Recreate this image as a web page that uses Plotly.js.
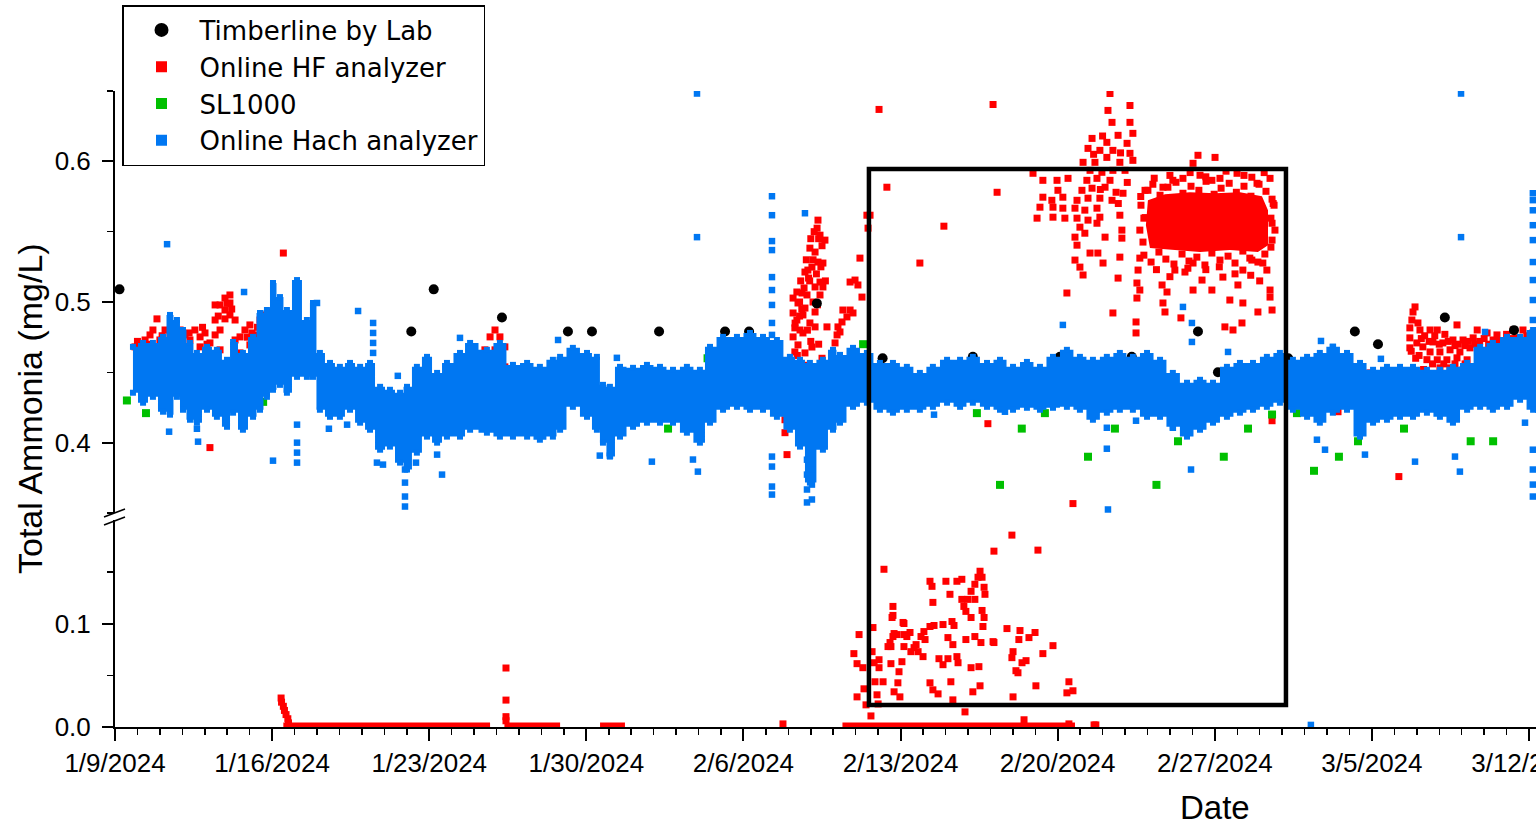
<!DOCTYPE html>
<html>
<head>
<meta charset="utf-8">
<script src="https://cdn.plot.ly/plotly-3.0.1.min.js"></script>
<style>html,body{margin:0;padding:0;background:#fff;overflow:hidden}#chart{width:1536px;height:829px}</style>
</head>
<body>
<div id="chart"></div>
<script>
// x values are days after 2024-01-09 00:00; y values are Total Ammonia (mg/L)
const startDate = '2024-01-09';

// Timberline by Lab
const labDay = [0.20,13.20,14.20,17.24,20.18,21.25,24.24,27.18,28.25,31.27,34.20,38.22,42.10,45.30,48.25,49.14,52.27,55.24,56.27,59.25,62.33];
const labVal = [0.509,0.479,0.509,0.489,0.479,0.479,0.479,0.479,0.479,0.499,0.460,0.461,0.461,0.461,0.479,0.450,0.460,0.479,0.470,0.489,0.480];

// SL1000
const slDay = [0.53,1.38,2.36,5.57,6.60,24.64,26.40,33.33,34.40,38.40,39.43,40.40,41.43,43.35,44.55,46.40,47.36,49.40,50.48,51.55,52.66,53.42,54.53,55.38,57.43,60.40,61.40];
const slVal = [0.430,0.421,0.430,0.461,0.429,0.410,0.460,0.470,0.452,0.421,0.370,0.410,0.421,0.390,0.410,0.370,0.401,0.390,0.410,0.420,0.421,0.380,0.390,0.401,0.410,0.401,0.401];

// Online Hach analyzer: dense band (upper / lower edge) and isolated readings
const hachDay = [0.80,1.25,1.69,2.14,2.45,2.76,3.03,3.34,3.65,4.10,4.54,4.99,5.26,5.70,6.15,6.46,6.77,7.04,7.35,7.66,8.11,8.55,8.82,9.13,9.58,10.02,10.47,10.92,11.36,11.81,12.25,12.70,13.01,13.45,13.90,14.35,14.79,15.37,15.82,16.57,17.15,17.73,18.36,18.93,19.51,19.83,20.40,21.03,21.47,21.74,22.05,22.50,23.08,23.70,24.28,24.86,25.48,26.06,26.51,27.09,27.71,28.29,28.87,29.49,30.07,30.52,30.96,31.54,31.99,32.30,32.88,33.50,34.08,34.66,35.28,35.86,36.44,37.07,37.65,38.22,38.85,39.43,40.01,40.63,41.21,41.79,42.41,42.99,43.57,44.19,44.77,45.35,45.98,46.56,47.13,47.76,48.34,48.92,49.54,50.12,50.70,51.32,51.90,52.48,53.11,53.68,54.26,54.89,55.47,56.05,56.67,57.25,57.83,58.45,59.03,59.61,60.24,60.82,61.39,62.02,62.60,63.18,63.40];
const hachHigh = [.4681,.4709,.4709,.4752,.4908,.4872,.4801,.4709,.4638,.4681,.4660,.4589,.4716,.4638,.4752,.4922,.4943,.5135,.5035,.4943,.5156,.4872,.4993,.4638,.4567,.4539,.4567,.4539,.4567,.4397,.4376,.4355,.4397,.4539,.4610,.4496,.4567,.4638,.4709,.4660,.4709,.4553,.4567,.4539,.4589,.4610,.4674,.4638,.4610,.4411,.4397,.4539,.4532,.4553,.4539,.4518,.4539,.4518,.4681,.4752,.4752,.4780,.4752,.4730,.4610,.4589,.4567,.4589,.4660,.4624,.4674,.4638,.4567,.4567,.4539,.4496,.4539,.4589,.4589,.4610,.4567,.4589,.4539,.4574,.4539,.4610,.4660,.4610,.4589,.4610,.4638,.4610,.4638,.4589,.4496,.4426,.4447,.4426,.4539,.4567,.4567,.4610,.4638,.4589,.4610,.4638,.4681,.4638,.4567,.4518,.4539,.4539,.4539,.4518,.4518,.4539,.4567,.4681,.4709,.4752,.4752,.4801,.4801];
const hachLow = [.4355,.4284,.4326,.4220,.4199,.4326,.4234,.4163,.4142,.4234,.4184,.4113,.4213,.4092,.4184,.4234,.4326,.4376,.4411,.4355,.4468,.4468,.4468,.4234,.4184,.4184,.4234,.4142,.4092,.3950,.3972,.3858,.3809,.3929,.4043,.4000,.4043,.4043,.4092,.4071,.4043,.4043,.4043,.4021,.4043,.4092,.4255,.4184,.4092,.4000,.3901,.4043,.4113,.4142,.4142,.4142,.4071,.4000,.4142,.4234,.4255,.4234,.4234,.4184,.4092,.3972,.3716,.3950,.4092,.4142,.4255,.4284,.4234,.4213,.4234,.4234,.4255,.4284,.4255,.4284,.4255,.4234,.4234,.4248,.4234,.4248,.4255,.4234,.4163,.4213,.4234,.4234,.4184,.4184,.4113,.4043,.4092,.4142,.4184,.4213,.4234,.4255,.4284,.4234,.4184,.4142,.4213,.4234,.4043,.4142,.4163,.4184,.4184,.4213,.4184,.4142,.4234,.4255,.4234,.4255,.4305,.4234,.4234];
const hachPoints = [[2.32,.5411],[5.75,.5071],[9.00,.4993],[10.83,.4936],[11.50,.4851],[11.50,.4780],[11.50,.4709],[11.50,.4638],[15.37,.4745],[12.60,.4475],[2.41,.4078],[3.65,.4099],[3.70,.4007],[7.04,.3872],[8.11,.4128],[8.11,.4000],[8.11,.3929],[8.11,.3858],[9.53,.4099],[10.34,.4128],[11.67,.3858],[11.94,.3844],[12.92,.3809],[12.92,.3716],[12.92,.3617],[12.92,.3546],[13.41,.3858],[14.35,.3915],[14.57,.3773],[25.93,.5461],[25.93,.6482],[29.27,.5752],[29.27,.5617],[29.27,.5433],[29.27,.5369],[29.27,.5177],[29.27,.5085],[29.27,.4979],[29.27,.4851],[29.27,.4766],[29.27,.3901],[29.27,.3830],[29.27,.3688],[29.27,.3631],[30.74,.5631],[21.60,.3908],[22.05,.3908],[23.92,.3865],[25.75,.3880],[25.97,.3794],[19.74,.4730],[22.36,.4603],[30.83,.3879],[30.83,.3773],[30.83,.3667],[30.83,.3575],[31.05,.3809],[31.05,.3702],[31.05,.3596],[42.23,.4837],[44.19,.3957],[44.24,.3525],[36.49,.4199],[39.65,.4220],[45.49,.4156],[44.19,.4106],[47.13,.4106],[59.97,.6482],[59.97,.5461],[47.58,.4965],[47.98,.4851],[47.98,.4716],[49.59,.4645],[53.73,.4723],[54.26,.4681],[56.40,.4596],[61.04,.4787],[47.94,.3809],[57.92,.3865],[53.55,.4021],[53.91,.3950],[55.69,.3915],[59.92,.3794],[59.70,.3901],[62.82,.4142],[63.17,.5773],[63.17,.5724],[63.17,.5652],[63.17,.5546],[63.17,.5440],[63.17,.5284],[63.17,.5156],[63.17,.5014],[63.17,.4872],[63.17,.3950],[63.17,.3809],[63.17,.3702],[63.17,.3617]];
const hachLowPanel = [[53.28,0.002]];

// Online HF analyzer, upper-range readings
const hfUpper = [
[0.89,.4681],[1.11,.4695],[1.34,.4730],[1.56,.4766],[1.69,.4801],[1.87,.4880],[2.00,.4730],[2.23,.4801],[2.45,.4766],[2.67,.4837],[2.90,.4801],[3.12,.4766],[3.34,.4730],[3.56,.4801],[3.79,.4752],[3.79,.4681],[4.01,.4780],[4.23,.4624],[4.23,.4709],[4.46,.4766],[4.46,.4872],[4.46,.4979],[4.68,.4979],[4.68,.4660],[4.68,.4801],[4.90,.5028],[4.90,.4880],[4.90,.4943],[5.12,.5050],[5.12,.4993],[5.12,.4908],[5.35,.4872],[5.35,.4730],[5.57,.4752],[5.57,.4638],[5.79,.4801],[5.79,.4610],[6.01,.4837],[6.01,.4695],[6.24,.4766],[6.24,.4567],[6.46,.4872],[6.68,.4908],[6.91,.4929],[7.13,.4837],[7.35,.4730],[7.50,.5348],[4.23,.3965],
[1.50,.4700],[2.10,.4760],[2.80,.4740],[3.30,.4780],[4.10,.4700],[4.60,.4900],[5.00,.4990],[5.20,.4950],[5.90,.4750],[6.10,.4780],[6.35,.4820],[6.60,.4850],[7.00,.4880],[3.90,.4820],[1.00,.4720],
[16.48,.4660],[16.48,.4567],[16.71,.4752],[16.71,.4610],[16.93,.4801],[16.93,.4660],[17.15,.4752],[17.15,.4589],[17.37,.4681],[17.37,.4539],
[31.32,.5582],[31.28,.5525],[31.41,.5475],[31.63,.5440],[30.96,.5383],[31.19,.5355],[31.32,.5284],[31.54,.5277],[31.05,.5248],[30.74,.5213],[30.87,.5227],[31.41,.5142],[31.19,.5107],[31.54,.5107],[30.38,.5071],[30.61,.5064],[30.83,.5050],[31.41,.5050],[30.21,.5028],[30.43,.4993],[30.74,.4957],[30.21,.4922],[30.65,.4908],[31.19,.4929],[30.38,.4872],[30.96,.4851],[31.19,.4823],[30.29,.4816],[30.65,.4780],[30.21,.4752],[30.43,.4695],[30.74,.4638],[30.29,.4645],[31.72,.4823],[30.52,.4801],[30.90,.5170],[31.10,.5000],[30.50,.4900],[31.00,.4720],
[30.30,.4850],[30.50,.5000],[30.70,.5100],[30.55,.5150],[30.80,.5300],[31.00,.5450],[31.10,.5300],[31.25,.5200],[31.45,.5250],[31.50,.5400],[31.35,.5450],[31.15,.5500],[30.95,.5150],[31.30,.4980],[30.85,.4800],[31.05,.4680],[31.35,.4700],[30.60,.4950],[31.65,.5150],[30.40,.4620],[30.75,.4550],[31.50,.4600],
[32.75,.5142],[33.10,.5121],[33.28,.5035],[32.97,.5156],[32.75,.4943],[32.61,.4894],[32.39,.4858],[32.21,.4823],[32.17,.4766],[32.08,.4709],[32.30,.4787],[32.43,.4943],[32.88,.4922],[33.19,.5312],[33.50,.5617],[33.55,.5525],[31.76,.4539],[31.85,.4504],[29.85,.4163],[29.85,.4071],[29.94,.3915],[30.16,.4128],
[34.04,.6369],[39.12,.6404],[34.39,.5816],[36.93,.5539],[35.86,.5277],[39.30,.5780],[42.41,.5064],[44.46,.4922],[38.89,.4135],[42.68,.3567],[57.20,.3759],[51.55,.4156],[33.64,.5617],
[45.22,.6397],[44.33,.6482],[44.24,.6362],[44.42,.6277],[45.22,.6277],[45.35,.6199],[43.53,.6163],[44.19,.6135],[44.69,.6185],[45.09,.6128],[43.35,.6092],[43.88,.6078],[44.46,.6078],[45.22,.6057],[45.35,.6007],[43.13,.5993],[43.66,.5993],[44.19,.6028],[44.77,.5993],[43.44,.5936],[43.97,.5922],[44.46,.5936],[45.00,.5936],[43.30,.5865],[43.75,.5879],[44.33,.5865],[43.08,.5794],[43.53,.5809],[44.11,.5816],[42.86,.5723],[43.35,.5738],[43.88,.5738],[44.42,.5723],[42.77,.5667],[43.21,.5653],[43.75,.5667],[42.86,.5596],[43.35,.5582],[43.88,.5603],[42.99,.5532],[43.75,.5560],[42.77,.5461],[43.21,.5489],[44.11,.5461],[42.86,.5404],[43.44,.5348],[42.77,.5298],[42.99,.5248],[43.79,.5348],[44.02,.5277],[43.13,.5192],[41.34,.5865],[41.97,.5865],[42.46,.5879],[42.01,.5794],[41.34,.5745],[41.74,.5723],[42.23,.5745],[41.21,.5674],[41.79,.5674],[42.23,.5667],[41.08,.5596],[41.79,.5603],[42.32,.5596],[40.90,.5915],[45.49,.4858],[45.49,.4780],[44.77,.5617],[44.86,.5511],[44.86,.5454],[44.77,.5319],[44.69,.5170],[44.91,.5773],[43.60,.6050],[44.00,.6180],[44.80,.6060],[45.10,.5850],[44.60,.5780],[43.90,.5800],[44.70,.5700],
[48.25,.6043],[49.01,.6028],[48.03,.5986],[47.58,.5879],[48.34,.5901],[48.87,.5865],[49.23,.5879],[49.99,.5915],[50.65,.5887],[51.46,.5879],[50.88,.5844],[47.13,.5865],[46.02,.5794],[46.69,.5816],[45.66,.5312],[45.58,.5227],[45.53,.5135],[45.66,.5085],[45.53,.5028],[46.87,.5071],[46.69,.4993],[46.78,.4929],[47.22,.5227],[47.67,.5213],[48.03,.5085],[48.03,.5277],[48.43,.5156],[48.87,.5085],[49.36,.5177],[50.03,.5121],[50.25,.5227],[50.65,.5298],[51.14,.5277],[51.32,.5227],[51.46,.5085],[51.46,.5035],[51.55,.4943],[50.92,.4929],[50.25,.4993],[49.67,.5014],[49.45,.4823],[49.81,.4801],[50.21,.4851],[47.49,.4887],[46.65,.5121],
[46.30,.5880],[47.00,.5900],[47.90,.5920],[48.60,.5890],[49.50,.5930],[50.30,.5900],[51.20,.5920],[45.90,.5600],[46.40,.5230],[47.00,.5180],[47.80,.5240],[48.60,.5230],[49.20,.5250],[49.90,.5200],[50.60,.5190],[51.00,.5150],[51.55,.5560],[51.60,.5700],[45.70,.5750],
[45.89,.5794],[46.24,.5837],[46.56,.5759],[46.91,.5816],[47.27,.5851],[47.58,.5773],[47.94,.5823],[48.29,.5794],[48.61,.5858],[48.97,.5766],[49.28,.5809],[49.64,.5844],[49.96,.5780],[50.30,.5823],[50.61,.5752],[50.97,.5837],[51.28,.5787],[51.55,.5731],
[45.84,.5333],[46.16,.5284],[46.51,.5355],[46.82,.5305],[47.18,.5270],[47.54,.5341],[47.85,.5291],[48.20,.5319],[48.56,.5263],[48.87,.5348],[49.23,.5298],[49.59,.5326],[49.90,.5277],[50.25,.5362],[50.56,.5312],[50.92,.5284],[51.23,.5341],[51.50,.5390],
[45.71,.5688],[45.84,.5596],[45.66,.5511],[45.80,.5426],[51.64,.5688],[51.50,.5596],[51.68,.5511],[51.55,.5440],
[57.92,.4965],[57.83,.4929],[57.78,.4872],[58.05,.4851],[57.69,.4816],[58.14,.4801],[58.59,.4801],[58.91,.4801],[59.79,.4837],[60.69,.4801],[61.13,.4780],[61.57,.4766],[62.73,.4801],[63.17,.4780],[57.69,.4745],[58.00,.4709],[57.69,.4674],[58.27,.4681],[58.72,.4716],[59.16,.4709],[59.61,.4730],[60.06,.4730],[60.51,.4745],[58.59,.4645],[59.03,.4645],[59.48,.4660],[59.92,.4645],[60.37,.4674],[58.91,.4589],[59.34,.4589],[59.79,.4603],[60.24,.4589],[59.03,.4532],[59.48,.4532],[60.06,.4518],[55.91,.4496],[56.00,.4447],[55.78,.4426],[54.57,.4305],[54.49,.4220],[62.46,.4745],[62.06,.4716],[58.35,.4760],[58.80,.4760],[59.25,.4770],[59.70,.4690],[60.15,.4690],[60.60,.4700],[61.00,.4740],[58.10,.4620],[58.45,.4590],[61.40,.4730],[62.00,.4770],[62.30,.4800],
[57.75,.4650],[58.20,.4740],[58.55,.4720],[59.00,.4700],[59.40,.4720],[59.85,.4700],[60.30,.4720],[60.80,.4720],[61.20,.4700],[61.60,.4720],[62.20,.4740],[62.90,.4760],[63.20,.4740],[58.70,.4560],[59.20,.4560],[59.70,.4560],[60.15,.4560],[57.95,.4600],[58.30,.4520]
];
// Online HF analyzer, core of the dense late-February cloud (outline)
const hfCloudDay = [46.02,46.78,47.89,49.01,50.12,51.10,51.37,51.37,50.92,49.67,48.34,47.00,46.11,45.93,46.02];
const hfCloudVal = [.5724,.5766,.5780,.5773,.5780,.5752,.5653,.5404,.5355,.5369,.5355,.5369,.5383,.5546,.5724];
// Online HF analyzer, low-range readings
const hfLower = [
[39.96,.1854],[41.12,.1709],[39.16,.1699],[34.26,.1524],[36.31,.1408],[36.40,.1359],[37.02,.1408],[37.51,.1408],[37.73,.1427],[38.54,.1505],[38.45,.1447],[38.63,.1447],[38.31,.1379],[38.72,.1350],[38.14,.1311],[37.20,.1282],[37.99,.1233],[37.73,.1233],[38.31,.1233],[38.76,.1282],[36.44,.1204],[37.82,.1165],[37.91,.1117],[38.63,.1126],[38.72,.1058],[38.14,.1058],[38.67,.0971],[34.66,.1165],[34.62,.1058],[35.15,.1000],[36.49,.0981],[36.89,.0990],[37.29,.1019],[37.38,.0981],[39.74,.0951],[40.32,.0932],[40.99,.0913],[40.72,.0864],[40.27,.0845],[41.79,.0786],[41.34,.0709],[40.01,.0728],[39.96,.0670],[40.41,.0621],[40.59,.0641],[40.14,.0544],[40.23,.0524],[36.04,.0922],[35.91,.0874],[35.42,.0913],[35.28,.0874],[34.84,.0893],[34.66,.0874],[34.53,.0816],[34.44,.0777],[35.69,.0796],[35.60,.0767],[35.78,.0728],[35.46,.0728],[36.09,.0845],[35.15,.0893],[35.15,.0777],[37.11,.0864],[37.33,.0796],[37.91,.0845],[38.31,.0874],[38.58,.0816],[39.12,.0825],[39.16,.0816],[37.51,.0680],[37.56,.0621],[36.71,.0660],[36.89,.0602],[37.11,.0660],[38.14,.0573],[38.49,.0583],[36.31,.0427],[36.44,.0359],[36.67,.0320],[37.24,.0437],[38.22,.0340],[38.54,.0398],[37.33,.0262],[37.87,.0146],[40.01,.0291],[41.03,.0398],[42.41,.0330],[42.50,.0437],[42.68,.0350],[33.15,.0893],[32.92,.0709],[33.06,.0612],[33.32,.0573],[33.06,.0291],[33.37,.0369],[33.46,.0214],[33.68,.0107],[33.77,.0961],[33.73,.0728],[33.82,.0621],[33.86,.0437],[34.04,.0650],[34.04,.0573],[33.95,.0311],[34.00,.0223],[34.22,.0437],[34.57,.0612],[34.93,.0534],[35.06,.0631],[34.88,.0427],[34.71,.0340],[34.97,.0291],[34.57,.0777],[34.71,.0903],[35.11,.1010],[34.66,.1078],[36.31,.0971],[36.00,.0680],
[7.40,.028],[7.42,.024],[7.50,.020],[7.55,.016],[7.62,.012],[7.70,.008],[7.73,.004],[17.42,.057],[17.42,.026],[17.42,.010],[17.42,.006],[40.50,.007],[42.50,.003],[43.70,.002],[29.76,.003],[43.62,.002]
];
// Online HF analyzer, runs of zero readings [first day, last day]
const hfZeroRuns = [[7.50,16.71],[17.35,19.83],[21.61,22.72],[32.41,42.77]];

// Highlight box (days) and axis extent
const boxDays = [33.59, 52.17];
const lastDay = 63.31;

const T0 = Date.UTC(2024,0,9);
function toDate(d){
  const t = new Date(T0 + Math.round(d*86400000));
  const p = n => String(n).padStart(2,'0');
  return t.getUTCFullYear()+'-'+p(t.getUTCMonth()+1)+'-'+p(t.getUTCDate())+' '+p(t.getUTCHours())+':'+p(t.getUTCMinutes())+':'+p(t.getUTCSeconds());
}
const FONT = 'Liberation Sans, Arial, sans-serif';
const LEGFONT = 'DejaVu Sans, Liberation Sans, sans-serif';
const BLUE = '#0077F2', RED = '#FF0000', GREEN = '#00C000';

const xs = a => a.map(p => toDate(p[0]));
const ys = a => a.map(p => p[1]);

const zx = [], zy = [];
hfZeroRuns.forEach(r => { zx.push(toDate(r[0]), toDate(r[1]), null); zy.push(0, 0, null); });

const traces = [
  {x: hfCloudDay.map(toDate), y: hfCloudVal, mode:'lines', fill:'toself', fillcolor:RED, line:{color:RED, width:0}, showlegend:false, hoverinfo:'skip', xaxis:'x', yaxis:'y'},
  {x: xs(hfUpper), y: ys(hfUpper), mode:'markers', marker:{symbol:'square', size:7, color:RED}, showlegend:false, xaxis:'x', yaxis:'y'},
  {x: xs(hfLower), y: ys(hfLower), mode:'markers', marker:{symbol:'square', size:7, color:RED}, showlegend:false, xaxis:'x', yaxis:'y2'},
  {x: zx, y: zy, mode:'lines', line:{color:RED, width:9}, showlegend:false, hoverinfo:'skip', xaxis:'x', yaxis:'y2'},
  {x: slDay.map(toDate), y: slVal, mode:'markers', marker:{symbol:'square', size:8, color:GREEN}, showlegend:false, xaxis:'x', yaxis:'y'},
  {x: labDay.map(toDate), y: labVal, mode:'markers', marker:{symbol:'circle', size:10, color:'#000'}, showlegend:false, xaxis:'x', yaxis:'y'},
  {x: hachDay.map(toDate), y: hachHigh, mode:'lines+markers', line:{color:BLUE, width:0, shape:'hvh'}, marker:{symbol:'square', size:6, color:BLUE}, showlegend:false, hoverinfo:'skip', xaxis:'x', yaxis:'y'},
  {x: hachDay.map(toDate), y: hachLow, mode:'lines+markers', fill:'tonexty', fillcolor:BLUE, line:{color:BLUE, width:0, shape:'hvh'}, marker:{symbol:'square', size:6, color:BLUE}, showlegend:false, hoverinfo:'skip', xaxis:'x', yaxis:'y'},
  {x: xs(hachPoints), y: ys(hachPoints), mode:'markers', marker:{symbol:'square', size:6.5, color:BLUE}, showlegend:false, xaxis:'x', yaxis:'y'},
  {x: xs(hachLowPanel), y: ys(hachLowPanel), mode:'markers', marker:{symbol:'square', size:6.5, color:BLUE}, showlegend:false, xaxis:'x', yaxis:'y2'},
  // legend entries
  {x:[null], y:[null], name:'Timberline by Lab', mode:'markers', marker:{symbol:'circle', size:14, color:'#000'}, legendrank:1, xaxis:'x', yaxis:'y'},
  {x:[null], y:[null], name:'Online HF analyzer', mode:'markers', marker:{symbol:'square', size:11, color:RED}, legendrank:2, xaxis:'x', yaxis:'y'},
  {x:[null], y:[null], name:'SL1000', mode:'markers', marker:{symbol:'square', size:11, color:GREEN}, legendrank:3, xaxis:'x', yaxis:'y'},
  {x:[null], y:[null], name:'Online Hach analyzer', mode:'markers', marker:{symbol:'square', size:11, color:BLUE}, legendrank:4, xaxis:'x', yaxis:'y'}
];

const L = 115, R = 1536, T = 91, B = 727;
const px = v => (v - L) / (R - L);
const py = v => (B - v) / (B - T);

const yCommon = {ticks:'outside', ticklen:11, tickwidth:2, tickcolor:'#000', showline:true, linecolor:'#000', linewidth:2, showgrid:false, zeroline:false, tickfont:{family:FONT, size:26, color:'#000'}, ticklabelstandoff:6, tickmode:'array', fixedrange:true};

const layout = {
  width:1536, height:829,
  margin:{l:L, r:0, t:T, b:829-B},
  paper_bgcolor:'#fff', plot_bgcolor:'#fff',
  font:{family:FONT, color:'#000'},
  showlegend:true,
  legend:{x:px(122), y:py(5), xanchor:'left', yanchor:'top', traceorder:'normal', bgcolor:'#fff', bordercolor:'#000', borderwidth:1.5, font:{family:LEGFONT, size:26, color:'#000'}, itemwidth:66, tracegroupgap:0},
  xaxis:{type:'date', range:[startDate, toDate(lastDay)], anchor:'y2', tick0:startDate, dtick:7*86400000, tickformat:'%-m/%-d/%Y', ticks:'outside', ticklen:12, tickwidth:2, tickcolor:'#000', showline:true, linecolor:'#000', linewidth:2, showgrid:false, zeroline:false, ticklabeloverflow:'allow', tickfont:{family:FONT, size:26, color:'#000'}, minor:{dtick:86400000, tick0:startDate, ticks:'outside', ticklen:6, tickwidth:1.5, tickcolor:'#000', showgrid:false}, fixedrange:true},
  yaxis:Object.assign({}, yCommon, {domain:[py(513), 1], range:[0.35, 0.65], tickvals:[0.4,0.5,0.6], ticktext:['0.4','0.5','0.6'], minor:{tickmode:'array', tickvals:[0.35,0.45,0.55,0.65], ticks:'outside', ticklen:6, tickwidth:1.5, tickcolor:'#000', showgrid:false}}),
  yaxis2:Object.assign({}, yCommon, {domain:[0, py(520)], range:[0, 0.2], tickvals:[0,0.1], ticktext:['0.0','0.1'], minor:{tickmode:'array', tickvals:[0.05,0.15], ticks:'outside', ticklen:6, tickwidth:1.5, tickcolor:'#000', showgrid:false}}),
  shapes:[
    {type:'rect', xref:'x', yref:'paper', x0:toDate(boxDays[0]), x1:toDate(boxDays[1]), y0:py(705), y1:py(169), line:{color:'#000', width:4.5}, fillcolor:'rgba(0,0,0,0)', layer:'above'},
    {type:'line', xref:'paper', yref:'paper', x0:px(104), y0:py(517), x1:px(125), y1:py(509), line:{color:'#000', width:1.5}},
    {type:'line', xref:'paper', yref:'paper', x0:px(104), y0:py(525), x1:px(125), y1:py(517), line:{color:'#000', width:1.5}}
  ],
  annotations:[
    {text:'Total Ammonia (mg/L)', xref:'paper', yref:'paper', x:px(30), y:py(409), textangle:-90, showarrow:false, xanchor:'center', yanchor:'middle', font:{family:FONT, size:34, color:'#000'}},
    {text:'Date', xref:'paper', yref:'paper', x:px(1215), y:py(807), showarrow:false, xanchor:'center', yanchor:'middle', font:{family:FONT, size:33, color:'#000'}}
  ]
};

Plotly.newPlot('chart', traces, layout, {displayModeBar:false, staticPlot:true});
</script>
</body>
</html>
